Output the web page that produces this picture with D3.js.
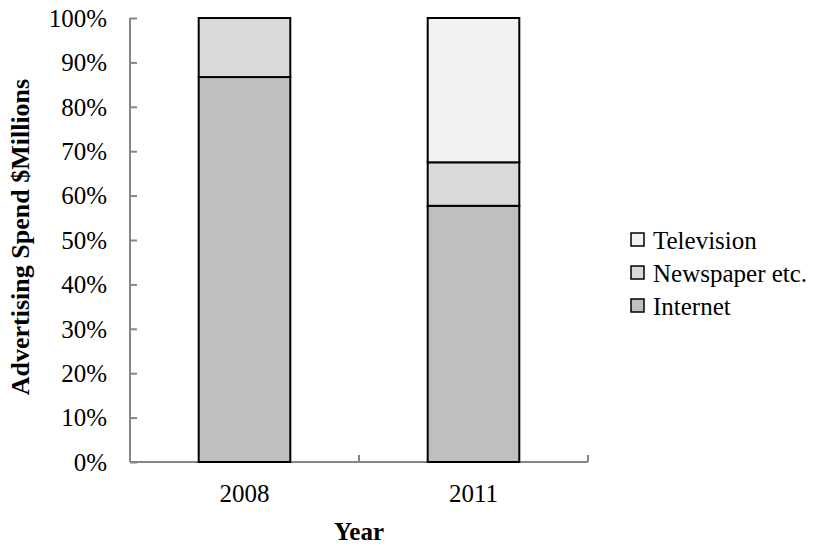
<!DOCTYPE html>
<html>
<head>
<meta charset="utf-8">
<script src="https://cdn.jsdelivr.net/npm/d3@7"></script>
<style>
  body { margin: 0; background: #fff; }
</style>
</head>
<body>
<svg id="chart" width="817" height="546"></svg>
<script>
// data (shares of total, %)
const years = ['2008', '2011']
const internet = [86.7, 57.7]
const newspaper = [13.3, 9.8]
const television = [0, 32.5]
const seriesNames = ['Internet', 'Newspaper etc.', 'Television']
const seriesColors = ['#bfbfbf', '#d9d9d9', '#f2f2f2']
const yTicks = [0, 10, 20, 30, 40, 50, 60, 70, 80, 90, 100]

const FONT = "'Liberation Serif', 'Times New Roman', serif"
const svg = d3.select('#chart')
const plotLeft = 130, plotRight = 588, plotTop = 18, plotBottom = 462

const x = d3.scaleBand()
    .domain(years)
    .range([plotLeft, plotRight])
    .paddingInner(0.6)
    .paddingOuter(0.3)

const y = d3.scaleLinear()
    .domain([0, 100])
    .range([plotBottom, plotTop])

// stack the three series
const rows = years.map((yr, i) => ({
    year: yr,
    'Internet': internet[i],
    'Newspaper etc.': newspaper[i],
    'Television': television[i]
}))
const stacked = d3.stack().keys(seriesNames)(rows)

const axisColor = '#868686'

// y axis
const yAxis = svg.append('g')
    .attr('transform', `translate(${plotLeft},0)`)
    .call(d3.axisLeft(y).tickValues(yTicks).tickSize(-7)
        .tickFormat(d => d + '%'))
yAxis.select('.domain').attr('stroke', axisColor).attr('stroke-width', 2)
    .attr('d', `M0,${plotTop}V${plotBottom}`)
yAxis.selectAll('.tick line').attr('stroke', axisColor).attr('stroke-width', 2)
yAxis.selectAll('.tick text')
    .style('font-family', FONT)
    .style('font-size', '25px')
    .attr('fill', '#000')
    .attr('dy', '0.33em')
    .attr('x', -23)

// x axis: tick marks sit between categories and at the ends
const xAxisG = svg.append('g')
xAxisG.append('line')
    .attr('x1', plotLeft).attr('x2', plotRight)
    .attr('y1', plotBottom).attr('y2', plotBottom)
    .attr('stroke', axisColor).attr('stroke-width', 2)
const bounds = [plotLeft].concat(years.map(yr => x(yr) + x.bandwidth() + x.step() * x.paddingOuter()))
bounds.forEach(bx => {
    xAxisG.append('line')
        .attr('x1', bx).attr('x2', bx)
        .attr('y1', plotBottom).attr('y2', plotBottom - 7)
        .attr('stroke', axisColor).attr('stroke-width', 2)
})
years.forEach(yr => {
    svg.append('text')
        .attr('x', x(yr) + x.bandwidth() / 2)
        .attr('y', 502)
        .attr('text-anchor', 'middle')
        .style('font-family', FONT)
        .style('font-size', '25px')
        .text(yr)
})

// bars
stacked.forEach((layer, si) => {
    svg.append('g')
        .selectAll('rect')
        .data(layer.filter(d => d[1] - d[0] > 0))
        .join('rect')
        .attr('x', d => x(d.data.year))
        .attr('width', x.bandwidth())
        .attr('y', d => y(d[1]))
        .attr('height', d => y(d[0]) - y(d[1]))
        .attr('fill', seriesColors[si])
        .attr('stroke', '#000')
        .attr('stroke-width', 2)
})

// axis titles
svg.append('text')
    .attr('x', (plotLeft + plotRight) / 2)
    .attr('y', 540)
    .attr('text-anchor', 'middle')
    .style('font-family', FONT)
    .style('font-size', '25px')
    .style('font-weight', 'bold')
    .text('Year')

svg.append('text')
    .attr('transform', `translate(29,${(plotTop + plotBottom) / 2 - 3}) rotate(-90)`)
    .attr('text-anchor', 'middle')
    .style('font-family', FONT)
    .style('font-size', '26px')
    .style('font-weight', 'bold')
    .text('Advertising Spend $Millions')

// legend (reversed order, Television on top)
const legendItems = seriesNames.map((n, i) => ({ name: n, color: seriesColors[i] })).reverse()
const legend = svg.append('g').attr('transform', 'translate(631,233)')
legendItems.forEach((item, i) => {
    const g = legend.append('g').attr('transform', `translate(0,${i * 33})`)
    g.append('rect')
        .attr('width', 13).attr('height', 13)
        .attr('fill', item.color)
        .attr('stroke', '#000')
        .attr('stroke-width', 1.5)
    g.append('text')
        .attr('x', 22)
        .attr('y', 7)
        .attr('dy', '0.35em')
        .style('font-family', FONT)
        .style('font-size', '25px')
        .text(item.name)
})
</script>
</body>
</html>
